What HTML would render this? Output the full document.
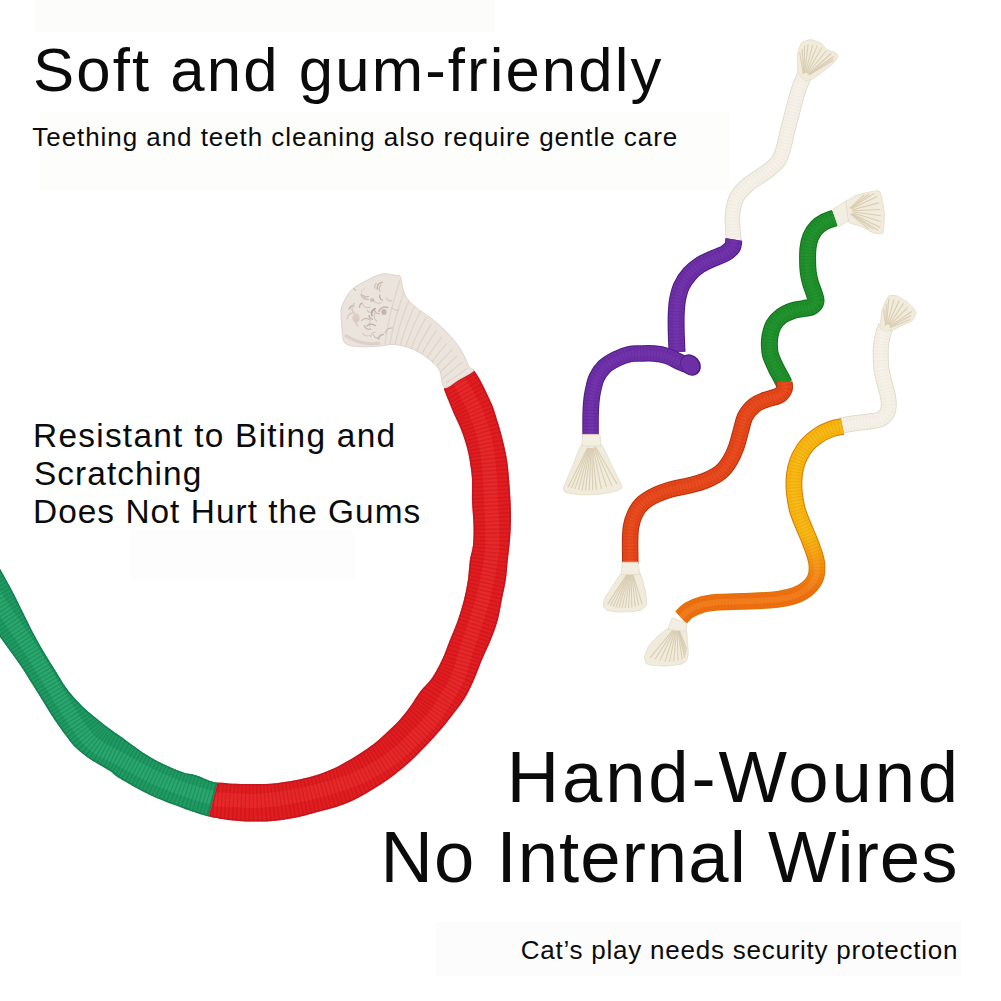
<!DOCTYPE html>
<html><head><meta charset="utf-8"><style>
html,body{margin:0;padding:0;background:#fff;}
body{width:1001px;height:1001px;position:relative;overflow:hidden;font-family:"Liberation Sans",sans-serif;color:#0b0b0b;}
.t{position:absolute;white-space:nowrap;line-height:1;}
</style></head><body>
<svg width="1001" height="1001" viewBox="0 0 1001 1001" style="position:absolute;left:0;top:0"><rect x="35" y="0" width="460" height="32" fill="#fcfcfa"/><rect x="40" y="112" width="690" height="78" fill="#fdfdfc"/><rect x="130" y="530" width="225" height="50" fill="#fdfdfd"/><rect x="436" y="922" width="525" height="54" fill="#fcfcfc"/><defs><linearGradient id="yo" gradientUnits="userSpaceOnUse" x1="0" y1="535" x2="0" y2="592"><stop offset="0" stop-color="#f6b70a"/><stop offset="1" stop-color="#ef6c10"/></linearGradient></defs><clipPath id="rc"><path d="M443.8,388.8 C444.5,390.6 446.3,395.4 448.0,399.6 C449.7,403.8 452.0,409.4 454.0,414.0 C456.0,418.6 458.2,422.7 460.0,427.1 C461.8,431.5 463.4,435.9 464.8,440.3 C466.2,444.7 467.4,448.9 468.4,453.5 C469.4,458.1 470.2,463.5 470.8,467.9 C471.4,472.3 471.8,474.6 472.0,480.0 C472.2,485.4 471.8,492.5 472.0,500.0 C472.2,507.5 473.3,517.5 473.5,525.0 C473.7,532.5 473.6,539.2 473.0,545.0 C472.4,550.8 470.8,554.2 469.9,560.0 C469.0,565.8 468.9,573.3 467.9,580.0 C466.9,586.7 465.6,593.3 463.9,600.0 C462.2,606.7 460.2,613.3 457.9,620.0 C455.6,626.7 452.6,633.3 449.9,640.0 C447.2,646.7 444.9,653.7 441.9,660.0 C438.9,666.3 435.7,672.7 432.0,678.0 C428.3,683.3 423.4,687.4 419.9,692.0 C416.4,696.6 414.1,701.0 410.9,705.5 C407.6,710.0 403.9,715.0 400.4,719.0 C396.9,723.0 394.1,725.5 389.9,729.5 C385.7,733.5 380.0,739.0 375.0,743.0 C370.0,747.0 365.0,750.2 360.0,753.4 C355.0,756.6 350.0,759.6 345.0,762.4 C340.0,765.2 336.2,767.5 330.0,770.0 C323.8,772.5 316.9,775.4 307.9,777.6 C298.9,779.8 286.6,782.1 275.9,783.2 C265.2,784.3 253.6,784.1 243.9,784.0 C234.2,783.9 222.0,782.7 217.6,782.4 L208.8,816.5 C212.0,817.1 220.8,819.1 228.0,819.9 C235.2,820.7 243.9,821.4 251.9,821.5 C259.9,821.6 267.9,821.5 275.9,820.7 C283.9,819.9 291.9,818.4 299.9,816.7 C307.9,815.0 317.4,812.1 323.9,810.3 C330.4,808.5 333.5,807.9 339.0,805.9 C344.5,803.9 351.0,801.4 357.0,798.4 C363.0,795.4 369.0,791.6 375.0,787.9 C381.0,784.1 386.9,780.4 392.9,775.9 C398.9,771.4 405.4,766.0 410.9,761.0 C416.4,756.0 420.9,751.2 425.9,746.0 C430.9,740.8 436.4,734.8 440.9,729.5 C445.4,724.2 448.9,719.8 452.9,714.5 C456.9,709.2 461.4,703.8 464.9,698.0 C468.4,692.2 471.1,686.3 473.9,680.0 C476.7,673.7 479.1,666.7 481.9,660.0 C484.7,653.3 488.1,646.7 490.8,640.0 C493.5,633.3 496.0,626.7 497.8,620.0 C499.6,613.3 500.5,606.7 501.8,600.0 C503.1,593.3 504.8,586.7 505.8,580.0 C506.8,573.3 507.1,566.7 507.8,560.0 C508.5,553.3 509.5,546.7 510.0,540.0 C510.5,533.3 510.9,526.7 511.0,520.0 C511.1,513.3 510.8,506.7 510.5,500.0 C510.2,493.3 509.6,486.4 509.1,480.0 C508.6,473.6 508.1,467.5 507.3,461.9 C506.5,456.3 505.4,451.3 504.3,446.3 C503.2,441.3 501.9,436.4 500.7,432.0 C499.5,427.6 498.5,424.4 497.1,420.0 C495.7,415.6 494.2,410.2 492.4,405.6 C490.6,401.0 488.4,396.6 486.4,392.4 C484.4,388.2 482.4,384.0 480.4,380.4 C478.4,376.8 475.4,372.4 474.4,370.8Z"/></clipPath><clipPath id="gc"><path d="M217.6,782.4 C216.7,782.3 215.6,782.8 212.0,781.6 C208.4,780.4 201.3,776.9 196.0,775.2 C190.7,773.5 187.7,774.2 180.0,771.2 C172.3,768.2 160.0,762.9 150.0,757.0 C140.0,751.1 126.7,740.7 120.0,736.0 C113.3,731.3 113.5,731.6 110.0,729.0 C106.5,726.4 102.7,723.3 99.0,720.4 C95.3,717.5 91.7,714.9 88.0,711.6 C84.3,708.3 80.7,704.7 77.0,700.7 C73.3,696.7 69.7,692.6 66.0,687.5 C62.3,682.4 58.7,675.9 55.0,670.0 C51.3,664.1 47.7,658.5 44.0,652.3 C40.3,646.0 36.7,639.5 33.0,632.5 C29.3,625.5 25.7,617.8 22.0,610.5 C18.3,603.2 14.7,595.6 11.0,588.6 C7.3,581.6 3.5,575.1 0.0,568.8 C-3.5,562.5 -8.3,554.0 -10.0,551.0 L-10.0,622.0 C-8.3,624.5 -3.5,632.0 0.0,637.0 C3.5,642.0 7.3,647.2 11.0,652.3 C14.7,657.4 18.3,662.2 22.0,667.7 C25.7,673.2 29.3,679.4 33.0,685.3 C36.7,691.2 40.3,697.0 44.0,702.9 C47.7,708.8 51.3,714.9 55.0,720.4 C58.7,725.9 62.7,731.4 66.0,735.8 C69.3,740.2 71.0,743.1 74.7,746.8 C78.4,750.5 84.0,754.9 88.0,757.8 C92.0,760.7 95.3,762.2 99.0,764.4 C102.7,766.6 106.5,768.6 110.0,771.0 C113.5,773.4 113.3,774.5 120.0,778.5 C126.7,782.5 140.0,790.2 150.0,795.0 C160.0,799.8 172.3,804.0 180.0,807.0 C187.7,810.0 191.2,811.1 196.0,812.7 C200.8,814.3 206.7,815.9 208.8,816.5Z"/></clipPath><path d="M217.6,782.4 C216.7,782.3 215.6,782.8 212.0,781.6 C208.4,780.4 201.3,776.9 196.0,775.2 C190.7,773.5 187.7,774.2 180.0,771.2 C172.3,768.2 160.0,762.9 150.0,757.0 C140.0,751.1 126.7,740.7 120.0,736.0 C113.3,731.3 113.5,731.6 110.0,729.0 C106.5,726.4 102.7,723.3 99.0,720.4 C95.3,717.5 91.7,714.9 88.0,711.6 C84.3,708.3 80.7,704.7 77.0,700.7 C73.3,696.7 69.7,692.6 66.0,687.5 C62.3,682.4 58.7,675.9 55.0,670.0 C51.3,664.1 47.7,658.5 44.0,652.3 C40.3,646.0 36.7,639.5 33.0,632.5 C29.3,625.5 25.7,617.8 22.0,610.5 C18.3,603.2 14.7,595.6 11.0,588.6 C7.3,581.6 3.5,575.1 0.0,568.8 C-3.5,562.5 -8.3,554.0 -10.0,551.0 L-10.0,622.0 C-8.3,624.5 -3.5,632.0 0.0,637.0 C3.5,642.0 7.3,647.2 11.0,652.3 C14.7,657.4 18.3,662.2 22.0,667.7 C25.7,673.2 29.3,679.4 33.0,685.3 C36.7,691.2 40.3,697.0 44.0,702.9 C47.7,708.8 51.3,714.9 55.0,720.4 C58.7,725.9 62.7,731.4 66.0,735.8 C69.3,740.2 71.0,743.1 74.7,746.8 C78.4,750.5 84.0,754.9 88.0,757.8 C92.0,760.7 95.3,762.2 99.0,764.4 C102.7,766.6 106.5,768.6 110.0,771.0 C113.5,773.4 113.3,774.5 120.0,778.5 C126.7,782.5 140.0,790.2 150.0,795.0 C160.0,799.8 172.3,804.0 180.0,807.0 C187.7,810.0 191.2,811.1 196.0,812.7 C200.8,814.3 206.7,815.9 208.8,816.5Z" fill="#1f9a63"/><g clip-path="url(#gc)"><path d="M216.0,799.0 C210.0,797.2 191.0,792.0 180.0,788.0 C169.0,784.0 160.0,779.8 150.0,775.0 C140.0,770.2 130.0,764.7 120.0,759.0 C110.0,753.3 99.7,750.7 90.0,741.0 C80.3,731.3 71.8,716.2 62.0,701.0 C52.2,685.8 41.3,666.2 31.0,650.0 C20.7,633.8 8.5,617.3 0.0,604.0 C-8.5,590.7 -16.7,575.7 -20.0,570.0" fill="none" stroke="#3bbf85" stroke-width="14" opacity="0.35"/><path d="M216.0,799.0 C210.0,797.2 191.0,792.0 180.0,788.0 C169.0,784.0 160.0,779.8 150.0,775.0 C140.0,770.2 130.0,764.7 120.0,759.0 C110.0,753.3 99.7,750.7 90.0,741.0 C80.3,731.3 71.8,716.2 62.0,701.0 C52.2,685.8 41.3,666.2 31.0,650.0 C20.7,633.8 8.5,617.3 0.0,604.0 C-8.5,590.7 -16.7,575.7 -20.0,570.0" fill="none" stroke="#0e6e42" stroke-width="60" stroke-dasharray="1.3 2.4" opacity="0.35"/><path d="M217.6,782.4 C216.7,782.3 215.6,782.8 212.0,781.6 C208.4,780.4 201.3,776.9 196.0,775.2 C190.7,773.5 187.7,774.2 180.0,771.2 C172.3,768.2 160.0,762.9 150.0,757.0 C140.0,751.1 126.7,740.7 120.0,736.0 C113.3,731.3 113.5,731.6 110.0,729.0 C106.5,726.4 102.7,723.3 99.0,720.4 C95.3,717.5 91.7,714.9 88.0,711.6 C84.3,708.3 80.7,704.7 77.0,700.7 C73.3,696.7 69.7,692.6 66.0,687.5 C62.3,682.4 58.7,675.9 55.0,670.0 C51.3,664.1 47.7,658.5 44.0,652.3 C40.3,646.0 36.7,639.5 33.0,632.5 C29.3,625.5 25.7,617.8 22.0,610.5 C18.3,603.2 14.7,595.6 11.0,588.6 C7.3,581.6 3.5,575.1 0.0,568.8 C-3.5,562.5 -8.3,554.0 -10.0,551.0 L-10.0,622.0 C-8.3,624.5 -3.5,632.0 0.0,637.0 C3.5,642.0 7.3,647.2 11.0,652.3 C14.7,657.4 18.3,662.2 22.0,667.7 C25.7,673.2 29.3,679.4 33.0,685.3 C36.7,691.2 40.3,697.0 44.0,702.9 C47.7,708.8 51.3,714.9 55.0,720.4 C58.7,725.9 62.7,731.4 66.0,735.8 C69.3,740.2 71.0,743.1 74.7,746.8 C78.4,750.5 84.0,754.9 88.0,757.8 C92.0,760.7 95.3,762.2 99.0,764.4 C102.7,766.6 106.5,768.6 110.0,771.0 C113.5,773.4 113.3,774.5 120.0,778.5 C126.7,782.5 140.0,790.2 150.0,795.0 C160.0,799.8 172.3,804.0 180.0,807.0 C187.7,810.0 191.2,811.1 196.0,812.7 C200.8,814.3 206.7,815.9 208.8,816.5Z" fill="none" stroke="#137a4c" stroke-width="3" opacity="0.7"/></g><path d="M443.8,388.8 C444.5,390.6 446.3,395.4 448.0,399.6 C449.7,403.8 452.0,409.4 454.0,414.0 C456.0,418.6 458.2,422.7 460.0,427.1 C461.8,431.5 463.4,435.9 464.8,440.3 C466.2,444.7 467.4,448.9 468.4,453.5 C469.4,458.1 470.2,463.5 470.8,467.9 C471.4,472.3 471.8,474.6 472.0,480.0 C472.2,485.4 471.8,492.5 472.0,500.0 C472.2,507.5 473.3,517.5 473.5,525.0 C473.7,532.5 473.6,539.2 473.0,545.0 C472.4,550.8 470.8,554.2 469.9,560.0 C469.0,565.8 468.9,573.3 467.9,580.0 C466.9,586.7 465.6,593.3 463.9,600.0 C462.2,606.7 460.2,613.3 457.9,620.0 C455.6,626.7 452.6,633.3 449.9,640.0 C447.2,646.7 444.9,653.7 441.9,660.0 C438.9,666.3 435.7,672.7 432.0,678.0 C428.3,683.3 423.4,687.4 419.9,692.0 C416.4,696.6 414.1,701.0 410.9,705.5 C407.6,710.0 403.9,715.0 400.4,719.0 C396.9,723.0 394.1,725.5 389.9,729.5 C385.7,733.5 380.0,739.0 375.0,743.0 C370.0,747.0 365.0,750.2 360.0,753.4 C355.0,756.6 350.0,759.6 345.0,762.4 C340.0,765.2 336.2,767.5 330.0,770.0 C323.8,772.5 316.9,775.4 307.9,777.6 C298.9,779.8 286.6,782.1 275.9,783.2 C265.2,784.3 253.6,784.1 243.9,784.0 C234.2,783.9 222.0,782.7 217.6,782.4 L208.8,816.5 C212.0,817.1 220.8,819.1 228.0,819.9 C235.2,820.7 243.9,821.4 251.9,821.5 C259.9,821.6 267.9,821.5 275.9,820.7 C283.9,819.9 291.9,818.4 299.9,816.7 C307.9,815.0 317.4,812.1 323.9,810.3 C330.4,808.5 333.5,807.9 339.0,805.9 C344.5,803.9 351.0,801.4 357.0,798.4 C363.0,795.4 369.0,791.6 375.0,787.9 C381.0,784.1 386.9,780.4 392.9,775.9 C398.9,771.4 405.4,766.0 410.9,761.0 C416.4,756.0 420.9,751.2 425.9,746.0 C430.9,740.8 436.4,734.8 440.9,729.5 C445.4,724.2 448.9,719.8 452.9,714.5 C456.9,709.2 461.4,703.8 464.9,698.0 C468.4,692.2 471.1,686.3 473.9,680.0 C476.7,673.7 479.1,666.7 481.9,660.0 C484.7,653.3 488.1,646.7 490.8,640.0 C493.5,633.3 496.0,626.7 497.8,620.0 C499.6,613.3 500.5,606.7 501.8,600.0 C503.1,593.3 504.8,586.7 505.8,580.0 C506.8,573.3 507.1,566.7 507.8,560.0 C508.5,553.3 509.5,546.7 510.0,540.0 C510.5,533.3 510.9,526.7 511.0,520.0 C511.1,513.3 510.8,506.7 510.5,500.0 C510.2,493.3 509.6,486.4 509.1,480.0 C508.6,473.6 508.1,467.5 507.3,461.9 C506.5,456.3 505.4,451.3 504.3,446.3 C503.2,441.3 501.9,436.4 500.7,432.0 C499.5,427.6 498.5,424.4 497.1,420.0 C495.7,415.6 494.2,410.2 492.4,405.6 C490.6,401.0 488.4,396.6 486.4,392.4 C484.4,388.2 482.4,384.0 480.4,380.4 C478.4,376.8 475.4,372.4 474.4,370.8Z" fill="#e01d21"/><g clip-path="url(#rc)"><path d="M458.0,379.0 C461.0,384.5 471.2,400.2 476.0,412.0 C480.8,423.8 484.5,435.3 487.0,450.0 C489.5,464.7 490.2,483.3 491.0,500.0 C491.8,516.7 493.4,533.3 492.0,550.0 C490.6,566.7 486.8,583.3 482.5,600.0 C478.2,616.7 470.6,637.0 466.5,650.0 C462.4,663.0 461.3,669.7 457.7,678.0 C454.1,686.3 449.6,692.7 445.0,700.0 C440.4,707.3 438.3,712.7 430.0,722.0 C421.7,731.3 406.7,746.8 395.0,756.0 C383.3,765.2 371.7,771.5 360.0,777.0 C348.3,782.5 336.7,785.7 325.0,789.0 C313.3,792.3 301.7,795.0 290.0,797.0 C278.3,799.0 267.8,800.7 255.0,801.0 C242.2,801.3 220.0,799.3 213.0,799.0" fill="none" stroke="#f4423f" stroke-width="14" opacity="0.3"/><path d="M458.0,379.0 C461.0,384.5 471.2,400.2 476.0,412.0 C480.8,423.8 484.5,435.3 487.0,450.0 C489.5,464.7 490.2,483.3 491.0,500.0 C491.8,516.7 493.4,533.3 492.0,550.0 C490.6,566.7 486.8,583.3 482.5,600.0 C478.2,616.7 470.6,637.0 466.5,650.0 C462.4,663.0 461.3,669.7 457.7,678.0 C454.1,686.3 449.6,692.7 445.0,700.0 C440.4,707.3 438.3,712.7 430.0,722.0 C421.7,731.3 406.7,746.8 395.0,756.0 C383.3,765.2 371.7,771.5 360.0,777.0 C348.3,782.5 336.7,785.7 325.0,789.0 C313.3,792.3 301.7,795.0 290.0,797.0 C278.3,799.0 267.8,800.7 255.0,801.0 C242.2,801.3 220.0,799.3 213.0,799.0" fill="none" stroke="#a80c10" stroke-width="60" stroke-dasharray="1.3 2.6" opacity="0.28"/><path d="M443.8,388.8 C444.5,390.6 446.3,395.4 448.0,399.6 C449.7,403.8 452.0,409.4 454.0,414.0 C456.0,418.6 458.2,422.7 460.0,427.1 C461.8,431.5 463.4,435.9 464.8,440.3 C466.2,444.7 467.4,448.9 468.4,453.5 C469.4,458.1 470.2,463.5 470.8,467.9 C471.4,472.3 471.8,474.6 472.0,480.0 C472.2,485.4 471.8,492.5 472.0,500.0 C472.2,507.5 473.3,517.5 473.5,525.0 C473.7,532.5 473.6,539.2 473.0,545.0 C472.4,550.8 470.8,554.2 469.9,560.0 C469.0,565.8 468.9,573.3 467.9,580.0 C466.9,586.7 465.6,593.3 463.9,600.0 C462.2,606.7 460.2,613.3 457.9,620.0 C455.6,626.7 452.6,633.3 449.9,640.0 C447.2,646.7 444.9,653.7 441.9,660.0 C438.9,666.3 435.7,672.7 432.0,678.0 C428.3,683.3 423.4,687.4 419.9,692.0 C416.4,696.6 414.1,701.0 410.9,705.5 C407.6,710.0 403.9,715.0 400.4,719.0 C396.9,723.0 394.1,725.5 389.9,729.5 C385.7,733.5 380.0,739.0 375.0,743.0 C370.0,747.0 365.0,750.2 360.0,753.4 C355.0,756.6 350.0,759.6 345.0,762.4 C340.0,765.2 336.2,767.5 330.0,770.0 C323.8,772.5 316.9,775.4 307.9,777.6 C298.9,779.8 286.6,782.1 275.9,783.2 C265.2,784.3 253.6,784.1 243.9,784.0 C234.2,783.9 222.0,782.7 217.6,782.4 L208.8,816.5 C212.0,817.1 220.8,819.1 228.0,819.9 C235.2,820.7 243.9,821.4 251.9,821.5 C259.9,821.6 267.9,821.5 275.9,820.7 C283.9,819.9 291.9,818.4 299.9,816.7 C307.9,815.0 317.4,812.1 323.9,810.3 C330.4,808.5 333.5,807.9 339.0,805.9 C344.5,803.9 351.0,801.4 357.0,798.4 C363.0,795.4 369.0,791.6 375.0,787.9 C381.0,784.1 386.9,780.4 392.9,775.9 C398.9,771.4 405.4,766.0 410.9,761.0 C416.4,756.0 420.9,751.2 425.9,746.0 C430.9,740.8 436.4,734.8 440.9,729.5 C445.4,724.2 448.9,719.8 452.9,714.5 C456.9,709.2 461.4,703.8 464.9,698.0 C468.4,692.2 471.1,686.3 473.9,680.0 C476.7,673.7 479.1,666.7 481.9,660.0 C484.7,653.3 488.1,646.7 490.8,640.0 C493.5,633.3 496.0,626.7 497.8,620.0 C499.6,613.3 500.5,606.7 501.8,600.0 C503.1,593.3 504.8,586.7 505.8,580.0 C506.8,573.3 507.1,566.7 507.8,560.0 C508.5,553.3 509.5,546.7 510.0,540.0 C510.5,533.3 510.9,526.7 511.0,520.0 C511.1,513.3 510.8,506.7 510.5,500.0 C510.2,493.3 509.6,486.4 509.1,480.0 C508.6,473.6 508.1,467.5 507.3,461.9 C506.5,456.3 505.4,451.3 504.3,446.3 C503.2,441.3 501.9,436.4 500.7,432.0 C499.5,427.6 498.5,424.4 497.1,420.0 C495.7,415.6 494.2,410.2 492.4,405.6 C490.6,401.0 488.4,396.6 486.4,392.4 C484.4,388.2 482.4,384.0 480.4,380.4 C478.4,376.8 475.4,372.4 474.4,370.8Z" fill="none" stroke="#b9121a" stroke-width="3" opacity="0.6"/></g><clipPath id="wtc"><path d="M345.0,299.5 C343.1,303.0 341.7,305.2 341.2,310.0 C340.7,314.8 341.4,322.5 342.0,328.0 C342.6,333.5 342.0,339.9 345.0,343.0 C348.0,346.1 354.2,346.2 360.0,346.7 C365.8,347.2 373.8,346.4 379.5,346.0 C385.2,345.6 388.9,343.9 394.4,344.4 C399.9,344.9 406.9,346.7 412.4,349.0 C417.9,351.3 422.9,354.5 427.4,358.0 C431.9,361.5 436.6,365.1 439.4,370.0 C442.2,374.9 441.0,385.8 444.3,387.4 C447.6,389.0 454.1,382.2 459.0,379.4 C463.9,376.6 472.1,372.7 473.8,370.6 C475.5,368.5 471.6,370.6 469.4,367.0 C467.2,363.4 464.1,354.8 460.4,349.0 C456.7,343.2 451.7,337.4 447.0,332.4 C442.3,327.4 437.3,323.2 432.0,319.0 C426.7,314.8 419.9,311.0 415.4,307.0 C410.9,303.0 407.5,300.0 405.0,295.0 C402.5,290.0 401.9,280.2 400.4,277.0 C398.9,273.8 399.0,276.0 396.0,275.5 C393.0,275.0 387.1,273.2 382.4,274.0 C377.6,274.8 372.5,277.5 367.5,280.0 C362.5,282.5 356.2,285.8 352.5,289.0 C348.8,292.2 346.9,296.0 345.0,299.5Z"/></clipPath><path d="M345.0,299.5 C343.1,303.0 341.7,305.2 341.2,310.0 C340.7,314.8 341.4,322.5 342.0,328.0 C342.6,333.5 342.0,339.9 345.0,343.0 C348.0,346.1 354.2,346.2 360.0,346.7 C365.8,347.2 373.8,346.4 379.5,346.0 C385.2,345.6 388.9,343.9 394.4,344.4 C399.9,344.9 406.9,346.7 412.4,349.0 C417.9,351.3 422.9,354.5 427.4,358.0 C431.9,361.5 436.6,365.1 439.4,370.0 C442.2,374.9 441.0,385.8 444.3,387.4 C447.6,389.0 454.1,382.2 459.0,379.4 C463.9,376.6 472.1,372.7 473.8,370.6 C475.5,368.5 471.6,370.6 469.4,367.0 C467.2,363.4 464.1,354.8 460.4,349.0 C456.7,343.2 451.7,337.4 447.0,332.4 C442.3,327.4 437.3,323.2 432.0,319.0 C426.7,314.8 419.9,311.0 415.4,307.0 C410.9,303.0 407.5,300.0 405.0,295.0 C402.5,290.0 401.9,280.2 400.4,277.0 C398.9,273.8 399.0,276.0 396.0,275.5 C393.0,275.0 387.1,273.2 382.4,274.0 C377.6,274.8 372.5,277.5 367.5,280.0 C362.5,282.5 356.2,285.8 352.5,289.0 C348.8,292.2 346.9,296.0 345.0,299.5Z" fill="#ebe4dd" stroke="#ddd3cb" stroke-width="1"/><g clip-path="url(#wtc)"><path d="M400.0,280.0 Q388.5,315.0 385.0,344.0" stroke="#d9cfc6" stroke-width="1.2" fill="none" opacity="0.8"/><path d="M405.2,288.7 Q393.5,320.3 389.7,345.8" stroke="#d9cfc6" stroke-width="1.2" fill="none" opacity="0.8"/><path d="M410.5,296.3 Q398.4,325.2 394.4,348.1" stroke="#d9cfc6" stroke-width="1.2" fill="none" opacity="0.8"/><path d="M415.7,303.5 Q403.4,330.1 399.1,350.7" stroke="#d9cfc6" stroke-width="1.2" fill="none" opacity="0.8"/><path d="M420.9,310.5 Q408.3,335.0 403.8,353.5" stroke="#d9cfc6" stroke-width="1.2" fill="none" opacity="0.8"/><path d="M426.2,317.2 Q413.3,339.8 408.5,356.4" stroke="#d9cfc6" stroke-width="1.2" fill="none" opacity="0.8"/><path d="M431.4,323.9 Q418.3,344.7 413.2,359.4" stroke="#d9cfc6" stroke-width="1.2" fill="none" opacity="0.8"/><path d="M436.6,330.4 Q423.2,349.5 417.8,362.6" stroke="#d9cfc6" stroke-width="1.2" fill="none" opacity="0.8"/><path d="M441.8,336.8 Q428.2,354.3 422.5,365.8" stroke="#d9cfc6" stroke-width="1.2" fill="none" opacity="0.8"/><path d="M447.1,343.2 Q433.2,359.1 427.2,369.1" stroke="#d9cfc6" stroke-width="1.2" fill="none" opacity="0.8"/><path d="M452.3,349.5 Q438.1,364.0 431.9,372.5" stroke="#d9cfc6" stroke-width="1.2" fill="none" opacity="0.8"/><path d="M457.5,355.7 Q443.1,368.8 436.6,375.9" stroke="#d9cfc6" stroke-width="1.2" fill="none" opacity="0.8"/><path d="M462.8,361.9 Q448.0,373.7 441.3,379.4" stroke="#d9cfc6" stroke-width="1.2" fill="none" opacity="0.8"/><path d="M468.0,368.0 Q453.0,378.5 446.0,383.0" stroke="#d9cfc6" stroke-width="1.2" fill="none" opacity="0.8"/><path d="M364.1,288.7 Q361.0,290.1 361.6,293.4" fill="none" stroke="#d9cdc6" stroke-width="1.0" stroke-linecap="round"/><path d="M373.4,334.9 Q374.2,338.3 377.7,338.3" fill="none" stroke="#bfada5" stroke-width="0.9" stroke-linecap="round"/><path d="M353.8,306.0 Q350.3,305.5 349.0,308.9" fill="none" stroke="#c4b3ab" stroke-width="1.3" stroke-linecap="round"/><path d="M376.3,283.2 Q373.5,285.2 374.9,288.2" fill="none" stroke="#c4b3ab" stroke-width="0.9" stroke-linecap="round"/><path d="M386.6,298.2 Q388.1,301.4 391.6,300.6" fill="none" stroke="#d6c8c0" stroke-width="1.3" stroke-linecap="round"/><path d="M381.1,285.3 Q378.1,287.7 379.8,291.1" fill="none" stroke="#cdbfb7" stroke-width="1.3" stroke-linecap="round"/><path d="M356.4,319.6 Q354.5,323.4 357.8,326.0" fill="none" stroke="#d9cdc6" stroke-width="1.5" stroke-linecap="round"/><path d="M361.0,294.5 Q362.8,299.9 368.5,299.3" fill="none" stroke="#cdbfb7" stroke-width="1.3" stroke-linecap="round"/><path d="M374.9,332.1 Q370.8,332.8 370.6,336.9" fill="none" stroke="#cdbfb7" stroke-width="1.0" stroke-linecap="round"/><path d="M364.2,325.7 Q366.1,330.1 370.8,329.1" fill="none" stroke="#cdbfb7" stroke-width="1.6" stroke-linecap="round"/><path d="M354.4,312.7 Q348.6,312.6 347.2,318.3" fill="none" stroke="#d6c8c0" stroke-width="1.4" stroke-linecap="round"/><path d="M375.5,312.2 Q372.5,317.3 376.8,321.4" fill="none" stroke="#d6c8c0" stroke-width="1.2" stroke-linecap="round"/><path d="M382.0,282.3 Q376.9,283.7 377.1,289.0" fill="none" stroke="#c9b5ae" stroke-width="1.5" stroke-linecap="round"/><path d="M362.2,302.9 Q359.2,304.1 359.7,307.4" fill="none" stroke="#bfada5" stroke-width="1.1" stroke-linecap="round"/><path d="M374.4,309.6 Q375.3,313.6 379.4,313.7" fill="none" stroke="#c9b5ae" stroke-width="1.1" stroke-linecap="round"/><path d="M362.6,333.4 Q365.4,337.1 369.7,335.2" fill="none" stroke="#d9cdc6" stroke-width="1.1" stroke-linecap="round"/><path d="M354.4,303.6 Q350.3,307.3 353.0,312.0" fill="none" stroke="#d6c8c0" stroke-width="1.4" stroke-linecap="round"/><path d="M362.9,295.1 Q365.0,298.1 368.4,296.6" fill="none" stroke="#c9b5ae" stroke-width="1.1" stroke-linecap="round"/><path d="M369.1,315.5 Q369.3,318.7 372.5,319.2" fill="none" stroke="#bfada5" stroke-width="1.3" stroke-linecap="round"/><path d="M372.6,299.3 Q375.5,304.5 381.2,302.9" fill="none" stroke="#d9cdc6" stroke-width="1.4" stroke-linecap="round"/><path d="M387.7,307.5 Q381.7,305.8 378.8,311.3" fill="none" stroke="#c9b5ae" stroke-width="1.5" stroke-linecap="round"/><path d="M362.4,304.6 Q365.2,309.0 370.1,307.2" fill="none" stroke="#cdbfb7" stroke-width="1.0" stroke-linecap="round"/><path d="M391.5,307.1 Q394.2,311.5 399.0,309.8" fill="none" stroke="#cdbfb7" stroke-width="0.9" stroke-linecap="round"/><path d="M353.3,285.8 Q352.5,288.9 355.5,290.4" fill="none" stroke="#b8a69e" stroke-width="1.0" stroke-linecap="round"/><path d="M369.4,319.5 Q365.0,316.9 361.5,320.6" fill="none" stroke="#bfada5" stroke-width="1.0" stroke-linecap="round"/><path d="M367.2,310.3 Q369.2,313.2 372.5,311.8" fill="none" stroke="#d6c8c0" stroke-width="1.4" stroke-linecap="round"/><path d="M370.6,320.5 Q368.0,323.4 370.3,326.5" fill="none" stroke="#d9cdc6" stroke-width="1.2" stroke-linecap="round"/><path d="M383.2,334.6 Q379.0,335.0 378.5,339.1" fill="none" stroke="#c9b5ae" stroke-width="1.5" stroke-linecap="round"/><path d="M379.9,295.0 Q379.0,298.6 382.3,300.3" fill="none" stroke="#b8a69e" stroke-width="1.1" stroke-linecap="round"/><path d="M375.2,308.5 Q370.6,310.8 371.9,315.8" fill="none" stroke="#b8a69e" stroke-width="1.6" stroke-linecap="round"/><path d="M392.4,328.0 Q386.9,327.4 385.1,332.7" fill="none" stroke="#c4b3ab" stroke-width="1.0" stroke-linecap="round"/><path d="M375.6,325.7 Q371.0,322.3 366.7,326.0" fill="none" stroke="#bfada5" stroke-width="1.1" stroke-linecap="round"/><ellipse cx="356" cy="318" rx="3.5" ry="4.5" fill="#dcc4bc" opacity="0.8"/><ellipse cx="384" cy="312" rx="2.6" ry="3" fill="#a89890" opacity="0.6"/><ellipse cx="372" cy="300" rx="2.2" ry="2" fill="#b3a39b" opacity="0.5"/><path d="M345,335 Q360,346 380,343" fill="none" stroke="#d5c9c1" stroke-width="3" opacity="0.7"/></g><path d="M804.5,75.0 C803.5,77.6 800.2,84.8 798.3,90.7 C796.3,96.6 794.5,104.0 792.8,110.5 C791.1,117.0 789.5,123.1 787.9,129.4 C786.3,135.7 785.0,143.1 783.4,148.3 C781.8,153.5 781.3,156.9 778.5,160.8 C775.7,164.7 771.6,167.9 766.8,171.7 C762.0,175.4 754.7,179.1 749.7,183.3 C744.7,187.5 739.9,191.7 737.0,196.8 C734.1,201.9 733.3,208.1 732.6,213.9 C731.9,219.8 732.8,227.4 733.0,231.9 C733.2,236.4 733.8,239.5 734.0,241.0" fill="none" stroke="#e2dbcb" stroke-width="15.5" stroke-linecap="butt"/><path d="M804.5,75.0 C803.5,77.6 800.2,84.8 798.3,90.7 C796.3,96.6 794.5,104.0 792.8,110.5 C791.1,117.0 789.5,123.1 787.9,129.4 C786.3,135.7 785.0,143.1 783.4,148.3 C781.8,153.5 781.3,156.9 778.5,160.8 C775.7,164.7 771.6,167.9 766.8,171.7 C762.0,175.4 754.7,179.1 749.7,183.3 C744.7,187.5 739.9,191.7 737.0,196.8 C734.1,201.9 733.3,208.1 732.6,213.9 C731.9,219.8 732.8,227.4 733.0,231.9 C733.2,236.4 733.8,239.5 734.0,241.0" fill="none" stroke="#f4f0e6" stroke-width="13.6" stroke-linecap="butt"/><path d="M804.5,75.0 C803.5,77.6 800.2,84.8 798.3,90.7 C796.3,96.6 794.5,104.0 792.8,110.5 C791.1,117.0 789.5,123.1 787.9,129.4 C786.3,135.7 785.0,143.1 783.4,148.3 C781.8,153.5 781.3,156.9 778.5,160.8 C775.7,164.7 771.6,167.9 766.8,171.7 C762.0,175.4 754.7,179.1 749.7,183.3 C744.7,187.5 739.9,191.7 737.0,196.8 C734.1,201.9 733.3,208.1 732.6,213.9 C731.9,219.8 732.8,227.4 733.0,231.9 C733.2,236.4 733.8,239.5 734.0,241.0" fill="none" stroke="#fdfcf8" stroke-width="5.4" stroke-linecap="butt" opacity="0.18"/><path d="M804.5,75.0 C803.5,77.6 800.2,84.8 798.3,90.7 C796.3,96.6 794.5,104.0 792.8,110.5 C791.1,117.0 789.5,123.1 787.9,129.4 C786.3,135.7 785.0,143.1 783.4,148.3 C781.8,153.5 781.3,156.9 778.5,160.8 C775.7,164.7 771.6,167.9 766.8,171.7 C762.0,175.4 754.7,179.1 749.7,183.3 C744.7,187.5 739.9,191.7 737.0,196.8 C734.1,201.9 733.3,208.1 732.6,213.9 C731.9,219.8 732.8,227.4 733.0,231.9 C733.2,236.4 733.8,239.5 734.0,241.0" fill="none" stroke="#e2dbcb" stroke-width="14.0" stroke-dasharray="1 2.2" opacity="0.22"/><path d="M733.7,239.5 C733.5,240.8 734.0,244.7 732.5,247.0 C731.0,249.3 728.4,251.5 725.0,253.5 C721.6,255.5 716.2,257.1 712.0,259.0 C707.8,260.9 703.8,262.5 700.0,265.0 C696.2,267.5 692.6,270.5 689.5,274.0 C686.4,277.5 683.5,281.7 681.5,286.0 C679.5,290.3 678.4,295.2 677.5,300.0 C676.6,304.8 676.4,310.0 676.2,315.0 C676.0,320.0 676.1,323.8 676.2,330.0 C676.3,336.2 676.9,348.3 677.0,352.0" fill="none" stroke="#4e1c82" stroke-width="17" stroke-linecap="butt"/><path d="M733.7,239.5 C733.5,240.8 734.0,244.7 732.5,247.0 C731.0,249.3 728.4,251.5 725.0,253.5 C721.6,255.5 716.2,257.1 712.0,259.0 C707.8,260.9 703.8,262.5 700.0,265.0 C696.2,267.5 692.6,270.5 689.5,274.0 C686.4,277.5 683.5,281.7 681.5,286.0 C679.5,290.3 678.4,295.2 677.5,300.0 C676.6,304.8 676.4,310.0 676.2,315.0 C676.0,320.0 676.1,323.8 676.2,330.0 C676.3,336.2 676.9,348.3 677.0,352.0" fill="none" stroke="#6d2fa6" stroke-width="15.0" stroke-linecap="butt"/><path d="M733.7,239.5 C733.5,240.8 734.0,244.7 732.5,247.0 C731.0,249.3 728.4,251.5 725.0,253.5 C721.6,255.5 716.2,257.1 712.0,259.0 C707.8,260.9 703.8,262.5 700.0,265.0 C696.2,267.5 692.6,270.5 689.5,274.0 C686.4,277.5 683.5,281.7 681.5,286.0 C679.5,290.3 678.4,295.2 677.5,300.0 C676.6,304.8 676.4,310.0 676.2,315.0 C676.0,320.0 676.1,323.8 676.2,330.0 C676.3,336.2 676.9,348.3 677.0,352.0" fill="none" stroke="#8a4cc4" stroke-width="5.9" stroke-linecap="butt" opacity="0.18"/><path d="M733.7,239.5 C733.5,240.8 734.0,244.7 732.5,247.0 C731.0,249.3 728.4,251.5 725.0,253.5 C721.6,255.5 716.2,257.1 712.0,259.0 C707.8,260.9 703.8,262.5 700.0,265.0 C696.2,267.5 692.6,270.5 689.5,274.0 C686.4,277.5 683.5,281.7 681.5,286.0 C679.5,290.3 678.4,295.2 677.5,300.0 C676.6,304.8 676.4,310.0 676.2,315.0 C676.0,320.0 676.1,323.8 676.2,330.0 C676.3,336.2 676.9,348.3 677.0,352.0" fill="none" stroke="#4e1c82" stroke-width="15.3" stroke-dasharray="1 2.2" opacity="0.22"/><path d="M690.0,366.0 C688.5,365.4 684.8,364.2 681.0,362.5 C677.2,360.8 671.5,357.5 667.0,356.0 C662.5,354.5 658.5,353.9 654.0,353.5 C649.5,353.1 644.0,353.4 640.0,353.5 C636.0,353.6 634.0,353.1 630.0,354.0 C626.0,354.9 620.5,356.8 616.2,359.0 C611.9,361.2 607.3,363.8 604.0,367.0 C600.7,370.2 598.4,373.9 596.5,378.0 C594.6,382.1 593.7,387.5 592.8,391.5 C591.9,395.5 591.7,397.8 591.3,402.0 C590.9,406.2 590.7,411.0 590.6,416.7 C590.5,422.4 590.6,432.8 590.6,436.0" fill="none" stroke="#4e1c82" stroke-width="16.5" stroke-linecap="round"/><path d="M690.0,366.0 C688.5,365.4 684.8,364.2 681.0,362.5 C677.2,360.8 671.5,357.5 667.0,356.0 C662.5,354.5 658.5,353.9 654.0,353.5 C649.5,353.1 644.0,353.4 640.0,353.5 C636.0,353.6 634.0,353.1 630.0,354.0 C626.0,354.9 620.5,356.8 616.2,359.0 C611.9,361.2 607.3,363.8 604.0,367.0 C600.7,370.2 598.4,373.9 596.5,378.0 C594.6,382.1 593.7,387.5 592.8,391.5 C591.9,395.5 591.7,397.8 591.3,402.0 C590.9,406.2 590.7,411.0 590.6,416.7 C590.5,422.4 590.6,432.8 590.6,436.0" fill="none" stroke="#6d2fa6" stroke-width="14.5" stroke-linecap="round"/><path d="M690.0,366.0 C688.5,365.4 684.8,364.2 681.0,362.5 C677.2,360.8 671.5,357.5 667.0,356.0 C662.5,354.5 658.5,353.9 654.0,353.5 C649.5,353.1 644.0,353.4 640.0,353.5 C636.0,353.6 634.0,353.1 630.0,354.0 C626.0,354.9 620.5,356.8 616.2,359.0 C611.9,361.2 607.3,363.8 604.0,367.0 C600.7,370.2 598.4,373.9 596.5,378.0 C594.6,382.1 593.7,387.5 592.8,391.5 C591.9,395.5 591.7,397.8 591.3,402.0 C590.9,406.2 590.7,411.0 590.6,416.7 C590.5,422.4 590.6,432.8 590.6,436.0" fill="none" stroke="#8a4cc4" stroke-width="5.8" stroke-linecap="round" opacity="0.18"/><path d="M690.0,366.0 C688.5,365.4 684.8,364.2 681.0,362.5 C677.2,360.8 671.5,357.5 667.0,356.0 C662.5,354.5 658.5,353.9 654.0,353.5 C649.5,353.1 644.0,353.4 640.0,353.5 C636.0,353.6 634.0,353.1 630.0,354.0 C626.0,354.9 620.5,356.8 616.2,359.0 C611.9,361.2 607.3,363.8 604.0,367.0 C600.7,370.2 598.4,373.9 596.5,378.0 C594.6,382.1 593.7,387.5 592.8,391.5 C591.9,395.5 591.7,397.8 591.3,402.0 C590.9,406.2 590.7,411.0 590.6,416.7 C590.5,422.4 590.6,432.8 590.6,436.0" fill="none" stroke="#4e1c82" stroke-width="14.8" stroke-dasharray="1 2.2" opacity="0.22"/><ellipse cx="690.5" cy="365" rx="9.6" ry="11.3" transform="rotate(-40 690.5 365)" fill="#4e1c82"/><ellipse cx="690" cy="365" rx="8.4" ry="10.2" transform="rotate(-40 690 365)" fill="#6d2fa6"/><path d="M834.8,218.0 C833.2,218.6 828.0,220.0 825.0,221.6 C822.0,223.2 819.0,225.1 816.6,227.6 C814.2,230.1 812.2,233.2 810.8,236.6 C809.4,240.0 808.5,244.1 808.0,248.0 C807.5,251.9 807.6,256.0 807.6,260.0 C807.6,264.0 807.7,268.2 808.2,272.0 C808.7,275.8 809.5,279.5 810.5,283.0 C811.5,286.5 813.1,290.0 814.0,293.0 C814.9,296.0 816.3,298.8 816.0,301.0 C815.7,303.2 814.0,305.2 812.0,306.5 C810.0,307.8 807.1,307.8 804.0,308.5 C800.9,309.2 796.9,309.2 793.2,310.5 C789.5,311.8 784.9,313.6 781.6,316.0 C778.3,318.4 775.4,321.7 773.5,325.0 C771.6,328.3 770.7,332.7 770.0,336.0 C769.3,339.3 769.3,341.8 769.4,345.0 C769.5,348.2 769.4,351.2 770.5,355.0 C771.6,358.8 774.2,364.2 776.0,368.0 C777.8,371.8 780.0,375.3 781.4,378.0 C782.8,380.7 783.9,383.0 784.4,384.0" fill="none" stroke="#11701c" stroke-width="17" stroke-linecap="butt"/><path d="M834.8,218.0 C833.2,218.6 828.0,220.0 825.0,221.6 C822.0,223.2 819.0,225.1 816.6,227.6 C814.2,230.1 812.2,233.2 810.8,236.6 C809.4,240.0 808.5,244.1 808.0,248.0 C807.5,251.9 807.6,256.0 807.6,260.0 C807.6,264.0 807.7,268.2 808.2,272.0 C808.7,275.8 809.5,279.5 810.5,283.0 C811.5,286.5 813.1,290.0 814.0,293.0 C814.9,296.0 816.3,298.8 816.0,301.0 C815.7,303.2 814.0,305.2 812.0,306.5 C810.0,307.8 807.1,307.8 804.0,308.5 C800.9,309.2 796.9,309.2 793.2,310.5 C789.5,311.8 784.9,313.6 781.6,316.0 C778.3,318.4 775.4,321.7 773.5,325.0 C771.6,328.3 770.7,332.7 770.0,336.0 C769.3,339.3 769.3,341.8 769.4,345.0 C769.5,348.2 769.4,351.2 770.5,355.0 C771.6,358.8 774.2,364.2 776.0,368.0 C777.8,371.8 780.0,375.3 781.4,378.0 C782.8,380.7 783.9,383.0 784.4,384.0" fill="none" stroke="#1f8e2b" stroke-width="15.0" stroke-linecap="butt"/><path d="M834.8,218.0 C833.2,218.6 828.0,220.0 825.0,221.6 C822.0,223.2 819.0,225.1 816.6,227.6 C814.2,230.1 812.2,233.2 810.8,236.6 C809.4,240.0 808.5,244.1 808.0,248.0 C807.5,251.9 807.6,256.0 807.6,260.0 C807.6,264.0 807.7,268.2 808.2,272.0 C808.7,275.8 809.5,279.5 810.5,283.0 C811.5,286.5 813.1,290.0 814.0,293.0 C814.9,296.0 816.3,298.8 816.0,301.0 C815.7,303.2 814.0,305.2 812.0,306.5 C810.0,307.8 807.1,307.8 804.0,308.5 C800.9,309.2 796.9,309.2 793.2,310.5 C789.5,311.8 784.9,313.6 781.6,316.0 C778.3,318.4 775.4,321.7 773.5,325.0 C771.6,328.3 770.7,332.7 770.0,336.0 C769.3,339.3 769.3,341.8 769.4,345.0 C769.5,348.2 769.4,351.2 770.5,355.0 C771.6,358.8 774.2,364.2 776.0,368.0 C777.8,371.8 780.0,375.3 781.4,378.0 C782.8,380.7 783.9,383.0 784.4,384.0" fill="none" stroke="#3aac45" stroke-width="5.9" stroke-linecap="butt" opacity="0.18"/><path d="M834.8,218.0 C833.2,218.6 828.0,220.0 825.0,221.6 C822.0,223.2 819.0,225.1 816.6,227.6 C814.2,230.1 812.2,233.2 810.8,236.6 C809.4,240.0 808.5,244.1 808.0,248.0 C807.5,251.9 807.6,256.0 807.6,260.0 C807.6,264.0 807.7,268.2 808.2,272.0 C808.7,275.8 809.5,279.5 810.5,283.0 C811.5,286.5 813.1,290.0 814.0,293.0 C814.9,296.0 816.3,298.8 816.0,301.0 C815.7,303.2 814.0,305.2 812.0,306.5 C810.0,307.8 807.1,307.8 804.0,308.5 C800.9,309.2 796.9,309.2 793.2,310.5 C789.5,311.8 784.9,313.6 781.6,316.0 C778.3,318.4 775.4,321.7 773.5,325.0 C771.6,328.3 770.7,332.7 770.0,336.0 C769.3,339.3 769.3,341.8 769.4,345.0 C769.5,348.2 769.4,351.2 770.5,355.0 C771.6,358.8 774.2,364.2 776.0,368.0 C777.8,371.8 780.0,375.3 781.4,378.0 C782.8,380.7 783.9,383.0 784.4,384.0" fill="none" stroke="#11701c" stroke-width="15.3" stroke-dasharray="1 2.2" opacity="0.22"/><path d="M784.2,381.5 C784.2,382.8 785.4,386.7 784.5,389.0 C783.6,391.3 782.2,393.7 779.0,395.5 C775.8,397.3 769.1,398.4 765.0,400.0 C760.9,401.6 757.7,402.6 754.4,405.3 C751.1,408.0 747.6,411.9 745.4,416.1 C743.2,420.3 742.5,425.4 741.0,430.5 C739.5,435.6 738.2,441.7 736.4,446.7 C734.6,451.7 732.7,456.2 730.1,460.5 C727.5,464.8 724.7,468.9 720.7,472.2 C716.7,475.5 711.3,478.2 706.0,480.4 C700.7,482.6 694.7,484.1 689.0,485.5 C683.3,486.9 677.4,487.6 672.0,489.1 C666.6,490.6 661.3,492.3 656.5,494.6 C651.7,496.9 646.9,499.5 643.3,502.7 C639.7,505.9 637.0,509.9 635.0,514.0 C633.0,518.0 631.8,522.3 631.0,527.0 C630.2,531.7 630.2,537.3 630.1,542.0 C630.0,546.7 630.2,551.3 630.2,555.0 C630.2,558.7 630.3,562.5 630.3,564.0" fill="none" stroke="#b8300c" stroke-width="16.5" stroke-linecap="butt"/><path d="M784.2,381.5 C784.2,382.8 785.4,386.7 784.5,389.0 C783.6,391.3 782.2,393.7 779.0,395.5 C775.8,397.3 769.1,398.4 765.0,400.0 C760.9,401.6 757.7,402.6 754.4,405.3 C751.1,408.0 747.6,411.9 745.4,416.1 C743.2,420.3 742.5,425.4 741.0,430.5 C739.5,435.6 738.2,441.7 736.4,446.7 C734.6,451.7 732.7,456.2 730.1,460.5 C727.5,464.8 724.7,468.9 720.7,472.2 C716.7,475.5 711.3,478.2 706.0,480.4 C700.7,482.6 694.7,484.1 689.0,485.5 C683.3,486.9 677.4,487.6 672.0,489.1 C666.6,490.6 661.3,492.3 656.5,494.6 C651.7,496.9 646.9,499.5 643.3,502.7 C639.7,505.9 637.0,509.9 635.0,514.0 C633.0,518.0 631.8,522.3 631.0,527.0 C630.2,531.7 630.2,537.3 630.1,542.0 C630.0,546.7 630.2,551.3 630.2,555.0 C630.2,558.7 630.3,562.5 630.3,564.0" fill="none" stroke="#e4461a" stroke-width="14.5" stroke-linecap="butt"/><path d="M784.2,381.5 C784.2,382.8 785.4,386.7 784.5,389.0 C783.6,391.3 782.2,393.7 779.0,395.5 C775.8,397.3 769.1,398.4 765.0,400.0 C760.9,401.6 757.7,402.6 754.4,405.3 C751.1,408.0 747.6,411.9 745.4,416.1 C743.2,420.3 742.5,425.4 741.0,430.5 C739.5,435.6 738.2,441.7 736.4,446.7 C734.6,451.7 732.7,456.2 730.1,460.5 C727.5,464.8 724.7,468.9 720.7,472.2 C716.7,475.5 711.3,478.2 706.0,480.4 C700.7,482.6 694.7,484.1 689.0,485.5 C683.3,486.9 677.4,487.6 672.0,489.1 C666.6,490.6 661.3,492.3 656.5,494.6 C651.7,496.9 646.9,499.5 643.3,502.7 C639.7,505.9 637.0,509.9 635.0,514.0 C633.0,518.0 631.8,522.3 631.0,527.0 C630.2,531.7 630.2,537.3 630.1,542.0 C630.0,546.7 630.2,551.3 630.2,555.0 C630.2,558.7 630.3,562.5 630.3,564.0" fill="none" stroke="#f76a3a" stroke-width="5.8" stroke-linecap="butt" opacity="0.18"/><path d="M784.2,381.5 C784.2,382.8 785.4,386.7 784.5,389.0 C783.6,391.3 782.2,393.7 779.0,395.5 C775.8,397.3 769.1,398.4 765.0,400.0 C760.9,401.6 757.7,402.6 754.4,405.3 C751.1,408.0 747.6,411.9 745.4,416.1 C743.2,420.3 742.5,425.4 741.0,430.5 C739.5,435.6 738.2,441.7 736.4,446.7 C734.6,451.7 732.7,456.2 730.1,460.5 C727.5,464.8 724.7,468.9 720.7,472.2 C716.7,475.5 711.3,478.2 706.0,480.4 C700.7,482.6 694.7,484.1 689.0,485.5 C683.3,486.9 677.4,487.6 672.0,489.1 C666.6,490.6 661.3,492.3 656.5,494.6 C651.7,496.9 646.9,499.5 643.3,502.7 C639.7,505.9 637.0,509.9 635.0,514.0 C633.0,518.0 631.8,522.3 631.0,527.0 C630.2,531.7 630.2,537.3 630.1,542.0 C630.0,546.7 630.2,551.3 630.2,555.0 C630.2,558.7 630.3,562.5 630.3,564.0" fill="none" stroke="#b8300c" stroke-width="14.8" stroke-dasharray="1 2.2" opacity="0.22"/><path d="M886.0,325.5 C885.4,327.6 883.1,333.9 882.2,338.0 C881.3,342.1 880.9,345.0 880.7,350.0 C880.6,355.0 880.8,363.0 881.3,368.0 C881.8,373.0 882.8,376.0 883.7,380.0 C884.7,384.0 886.1,388.0 887.0,392.0 C887.9,396.0 888.8,400.5 888.8,404.0 C888.8,407.5 888.5,410.4 887.0,413.0 C885.5,415.6 883.0,418.1 880.0,419.5 C877.0,420.9 873.5,420.8 869.0,421.5 C864.5,422.2 857.7,422.8 853.0,423.5 C848.3,424.2 843.0,425.4 841.0,425.8" fill="none" stroke="#e2dbcb" stroke-width="16" stroke-linecap="butt"/><path d="M886.0,325.5 C885.4,327.6 883.1,333.9 882.2,338.0 C881.3,342.1 880.9,345.0 880.7,350.0 C880.6,355.0 880.8,363.0 881.3,368.0 C881.8,373.0 882.8,376.0 883.7,380.0 C884.7,384.0 886.1,388.0 887.0,392.0 C887.9,396.0 888.8,400.5 888.8,404.0 C888.8,407.5 888.5,410.4 887.0,413.0 C885.5,415.6 883.0,418.1 880.0,419.5 C877.0,420.9 873.5,420.8 869.0,421.5 C864.5,422.2 857.7,422.8 853.0,423.5 C848.3,424.2 843.0,425.4 841.0,425.8" fill="none" stroke="#f4f0e6" stroke-width="14.1" stroke-linecap="butt"/><path d="M886.0,325.5 C885.4,327.6 883.1,333.9 882.2,338.0 C881.3,342.1 880.9,345.0 880.7,350.0 C880.6,355.0 880.8,363.0 881.3,368.0 C881.8,373.0 882.8,376.0 883.7,380.0 C884.7,384.0 886.1,388.0 887.0,392.0 C887.9,396.0 888.8,400.5 888.8,404.0 C888.8,407.5 888.5,410.4 887.0,413.0 C885.5,415.6 883.0,418.1 880.0,419.5 C877.0,420.9 873.5,420.8 869.0,421.5 C864.5,422.2 857.7,422.8 853.0,423.5 C848.3,424.2 843.0,425.4 841.0,425.8" fill="none" stroke="#fdfcf8" stroke-width="5.6" stroke-linecap="butt" opacity="0.18"/><path d="M886.0,325.5 C885.4,327.6 883.1,333.9 882.2,338.0 C881.3,342.1 880.9,345.0 880.7,350.0 C880.6,355.0 880.8,363.0 881.3,368.0 C881.8,373.0 882.8,376.0 883.7,380.0 C884.7,384.0 886.1,388.0 887.0,392.0 C887.9,396.0 888.8,400.5 888.8,404.0 C888.8,407.5 888.5,410.4 887.0,413.0 C885.5,415.6 883.0,418.1 880.0,419.5 C877.0,420.9 873.5,420.8 869.0,421.5 C864.5,422.2 857.7,422.8 853.0,423.5 C848.3,424.2 843.0,425.4 841.0,425.8" fill="none" stroke="#e2dbcb" stroke-width="14.4" stroke-dasharray="1 2.2" opacity="0.22"/><path d="M842.5,426.5 C840.5,426.9 834.9,427.7 830.8,429.2 C826.7,430.7 822.0,432.9 818.0,435.6 C814.0,438.3 809.9,441.7 806.8,445.2 C803.7,448.7 801.5,452.6 799.6,456.4 C797.7,460.2 796.5,464.1 795.6,468.0 C794.7,471.9 794.2,475.8 794.0,480.0 C793.8,484.2 793.9,488.3 794.4,493.2 C794.9,498.1 795.8,504.0 797.2,509.2 C798.6,514.4 800.8,519.3 802.8,524.4 C804.8,529.5 807.2,534.5 809.2,539.6 C811.2,544.7 813.5,550.6 814.8,555.0 C816.1,559.4 816.9,562.2 817.0,566.0 C817.1,569.8 817.1,574.2 815.5,578.0 C813.9,581.8 810.9,585.6 807.5,588.5 C804.1,591.4 799.6,593.8 795.0,595.5 C790.4,597.2 784.9,598.2 780.0,599.0 C775.1,599.8 772.2,600.0 765.9,600.4 C759.5,600.8 749.9,601.0 741.9,601.3 C733.9,601.6 724.6,601.7 718.0,602.2 C711.4,602.8 706.8,603.3 702.0,604.6 C697.2,605.9 692.7,607.9 689.2,610.0 C685.7,612.1 682.4,616.2 681.0,617.5" fill="none" stroke="#d5780a" stroke-width="16.8" stroke-linecap="butt"/><path d="M842.5,426.5 C840.5,426.9 834.9,427.7 830.8,429.2 C826.7,430.7 822.0,432.9 818.0,435.6 C814.0,438.3 809.9,441.7 806.8,445.2 C803.7,448.7 801.5,452.6 799.6,456.4 C797.7,460.2 796.5,464.1 795.6,468.0 C794.7,471.9 794.2,475.8 794.0,480.0 C793.8,484.2 793.9,488.3 794.4,493.2 C794.9,498.1 795.8,504.0 797.2,509.2 C798.6,514.4 800.8,519.3 802.8,524.4 C804.8,529.5 807.2,534.5 809.2,539.6 C811.2,544.7 813.5,550.6 814.8,555.0 C816.1,559.4 816.9,562.2 817.0,566.0 C817.1,569.8 817.1,574.2 815.5,578.0 C813.9,581.8 810.9,585.6 807.5,588.5 C804.1,591.4 799.6,593.8 795.0,595.5 C790.4,597.2 784.9,598.2 780.0,599.0 C775.1,599.8 772.2,600.0 765.9,600.4 C759.5,600.8 749.9,601.0 741.9,601.3 C733.9,601.6 724.6,601.7 718.0,602.2 C711.4,602.8 706.8,603.3 702.0,604.6 C697.2,605.9 692.7,607.9 689.2,610.0 C685.7,612.1 682.4,616.2 681.0,617.5" fill="none" stroke="url(#yo)" stroke-width="14.8" stroke-linecap="butt"/><path d="M842.5,426.5 C840.5,426.9 834.9,427.7 830.8,429.2 C826.7,430.7 822.0,432.9 818.0,435.6 C814.0,438.3 809.9,441.7 806.8,445.2 C803.7,448.7 801.5,452.6 799.6,456.4 C797.7,460.2 796.5,464.1 795.6,468.0 C794.7,471.9 794.2,475.8 794.0,480.0 C793.8,484.2 793.9,488.3 794.4,493.2 C794.9,498.1 795.8,504.0 797.2,509.2 C798.6,514.4 800.8,519.3 802.8,524.4 C804.8,529.5 807.2,534.5 809.2,539.6 C811.2,544.7 813.5,550.6 814.8,555.0 C816.1,559.4 816.9,562.2 817.0,566.0 C817.1,569.8 817.1,574.2 815.5,578.0 C813.9,581.8 810.9,585.6 807.5,588.5 C804.1,591.4 799.6,593.8 795.0,595.5 C790.4,597.2 784.9,598.2 780.0,599.0 C775.1,599.8 772.2,600.0 765.9,600.4 C759.5,600.8 749.9,601.0 741.9,601.3 C733.9,601.6 724.6,601.7 718.0,602.2 C711.4,602.8 706.8,603.3 702.0,604.6 C697.2,605.9 692.7,607.9 689.2,610.0 C685.7,612.1 682.4,616.2 681.0,617.5" fill="none" stroke="#ffc860" stroke-width="5.9" stroke-linecap="butt" opacity="0.18"/><path d="M842.5,426.5 C840.5,426.9 834.9,427.7 830.8,429.2 C826.7,430.7 822.0,432.9 818.0,435.6 C814.0,438.3 809.9,441.7 806.8,445.2 C803.7,448.7 801.5,452.6 799.6,456.4 C797.7,460.2 796.5,464.1 795.6,468.0 C794.7,471.9 794.2,475.8 794.0,480.0 C793.8,484.2 793.9,488.3 794.4,493.2 C794.9,498.1 795.8,504.0 797.2,509.2 C798.6,514.4 800.8,519.3 802.8,524.4 C804.8,529.5 807.2,534.5 809.2,539.6 C811.2,544.7 813.5,550.6 814.8,555.0 C816.1,559.4 816.9,562.2 817.0,566.0 C817.1,569.8 817.1,574.2 815.5,578.0 C813.9,581.8 810.9,585.6 807.5,588.5 C804.1,591.4 799.6,593.8 795.0,595.5 C790.4,597.2 784.9,598.2 780.0,599.0 C775.1,599.8 772.2,600.0 765.9,600.4 C759.5,600.8 749.9,601.0 741.9,601.3 C733.9,601.6 724.6,601.7 718.0,602.2 C711.4,602.8 706.8,603.3 702.0,604.6 C697.2,605.9 692.7,607.9 689.2,610.0 C685.7,612.1 682.4,616.2 681.0,617.5" fill="none" stroke="#d5780a" stroke-width="15.1" stroke-dasharray="1 2.2" opacity="0.22"/><path d="M582.2,444.0 C580.1,445.6 573.9,462.7 572.5,466.0 C571.1,469.3 564.0,486.5 563.5,488.5 C563.0,490.5 564.7,492.0 566.0,492.5 C567.3,493.0 578.1,494.7 580.5,494.8 C582.9,494.9 595.0,494.7 597.5,494.5 C600.0,494.3 612.7,492.1 614.5,491.5 C616.3,490.9 622.3,489.1 622.0,487.0 C621.7,484.9 612.6,467.2 611.0,464.0 C609.4,460.8 603.1,445.5 600.9,444.0 C598.7,442.5 584.3,442.4 582.2,444.0Z" fill="#f1ebdc" stroke="#e3dac6" stroke-width="0.8"/><path d="M587.7,447.7 L568.0,487.3" stroke="#d6c9ae" stroke-width="1.1" opacity="0.85"/><path d="M588.2,447.8 L571.5,488.1" stroke="#d6c9ae" stroke-width="1.1" opacity="0.85"/><path d="M588.8,448.0 L575.0,488.9" stroke="#d6c9ae" stroke-width="1.1" opacity="0.85"/><path d="M589.4,448.1 L578.5,489.7" stroke="#d6c9ae" stroke-width="1.1" opacity="0.85"/><path d="M589.9,448.2 L582.0,490.3" stroke="#d6c9ae" stroke-width="1.1" opacity="0.85"/><path d="M590.5,448.2 L585.6,490.3" stroke="#d6c9ae" stroke-width="1.1" opacity="0.85"/><path d="M591.1,448.2 L589.2,490.2" stroke="#d6c9ae" stroke-width="1.1" opacity="0.85"/><path d="M591.7,448.2 L592.8,490.2" stroke="#d6c9ae" stroke-width="1.1" opacity="0.85"/><path d="M592.3,448.2 L596.4,490.1" stroke="#d6c9ae" stroke-width="1.1" opacity="0.85"/><path d="M593.1,448.0 L601.4,488.8" stroke="#d6c9ae" stroke-width="1.1" opacity="0.85"/><path d="M594.0,447.7 L606.6,487.2" stroke="#d6c9ae" stroke-width="1.1" opacity="0.85"/><path d="M594.8,447.4 L611.8,485.6" stroke="#d6c9ae" stroke-width="1.1" opacity="0.85"/><path d="M595.7,447.2 L617.0,484.0" stroke="#d6c9ae" stroke-width="1.1" opacity="0.85"/><path d="M582.2,434.4 L600,434.4 L600.9,446 L582.2,446Z" fill="#f3eee2" stroke="#e3dac6" stroke-width="0.8"/><path d="M622.0,573.0 C619.9,574.0 613.3,585.0 612.0,587.0 C610.7,589.0 605.1,597.5 604.5,599.0 C603.9,600.5 603.3,606.1 603.6,607.0 C603.9,607.9 607.1,610.1 608.0,610.5 C608.9,610.9 614.4,611.7 616.0,611.8 C617.6,611.9 628.1,611.9 630.0,611.8 C631.9,611.7 639.8,610.5 641.0,610.0 C642.2,609.5 646.2,606.4 646.5,605.0 C646.8,603.6 646.0,594.4 645.5,592.0 C645.0,589.6 641.6,574.4 639.8,573.0 C638.0,571.6 624.1,572.0 622.0,573.0Z" fill="#f1ebdc" stroke="#e3dac6" stroke-width="0.8"/><path d="M627.2,573.9 L607.5,604.4" stroke="#d6c9ae" stroke-width="1.1" opacity="0.85"/><path d="M627.6,574.1 L610.3,605.4" stroke="#d6c9ae" stroke-width="1.1" opacity="0.85"/><path d="M628.1,574.3 L613.1,606.5" stroke="#d6c9ae" stroke-width="1.1" opacity="0.85"/><path d="M628.5,574.4 L615.8,607.5" stroke="#d6c9ae" stroke-width="1.1" opacity="0.85"/><path d="M629.0,574.5 L618.8,608.0" stroke="#d6c9ae" stroke-width="1.1" opacity="0.85"/><path d="M629.5,574.5 L622.0,608.0" stroke="#d6c9ae" stroke-width="1.1" opacity="0.85"/><path d="M630.1,574.5 L625.2,608.0" stroke="#d6c9ae" stroke-width="1.1" opacity="0.85"/><path d="M630.6,574.5 L628.5,608.0" stroke="#d6c9ae" stroke-width="1.1" opacity="0.85"/><path d="M631.1,574.4 L631.8,607.5" stroke="#d6c9ae" stroke-width="1.1" opacity="0.85"/><path d="M631.7,574.3 L635.3,606.5" stroke="#d6c9ae" stroke-width="1.1" opacity="0.85"/><path d="M632.3,574.1 L638.7,605.4" stroke="#d6c9ae" stroke-width="1.1" opacity="0.85"/><path d="M632.8,573.9 L642.2,604.4" stroke="#d6c9ae" stroke-width="1.1" opacity="0.85"/><path d="M622,562.2 L637.9,562.2 L639.8,574.5 L621.6,574.5Z" fill="#f3eee2" stroke="#e3dac6" stroke-width="0.8"/><path d="M667.9,628.5 C665.6,629.1 657.5,636.6 656.0,638.0 C654.5,639.4 649.4,645.0 648.5,646.5 C647.6,648.0 644.6,656.2 644.5,657.5 C644.4,658.8 645.9,662.9 646.5,663.5 C647.1,664.1 650.5,665.1 652.0,665.3 C653.5,665.5 664.4,666.1 666.5,666.0 C668.6,665.9 678.5,664.9 680.0,664.5 C681.5,664.1 685.9,661.9 686.5,661.0 C687.1,660.1 688.2,653.5 688.3,652.0 C688.4,650.5 687.5,642.6 687.3,641.0 C687.1,639.4 687.5,631.4 686.0,630.5 C684.5,629.6 670.1,627.9 667.9,628.5Z" fill="#f1ebdc" stroke="#e3dac6" stroke-width="0.8"/><path d="M672.6,630.4 L650.0,657.9" stroke="#d6c9ae" stroke-width="1.1" opacity="0.85"/><path d="M673.4,630.6 L655.0,659.2" stroke="#d6c9ae" stroke-width="1.1" opacity="0.85"/><path d="M674.2,630.8 L659.9,660.5" stroke="#d6c9ae" stroke-width="1.1" opacity="0.85"/><path d="M675.0,631.0 L664.9,661.8" stroke="#d6c9ae" stroke-width="1.1" opacity="0.85"/><path d="M675.8,631.0 L669.5,662.0" stroke="#d6c9ae" stroke-width="1.1" opacity="0.85"/><path d="M676.5,630.9 L673.7,661.2" stroke="#d6c9ae" stroke-width="1.1" opacity="0.85"/><path d="M677.2,630.8 L678.0,660.3" stroke="#d6c9ae" stroke-width="1.1" opacity="0.85"/><path d="M677.9,630.6 L682.2,659.5" stroke="#d6c9ae" stroke-width="1.1" opacity="0.85"/><path d="M678.3,630.3 L684.7,657.7" stroke="#d6c9ae" stroke-width="1.1" opacity="0.85"/><path d="M678.4,629.9 L685.4,654.9" stroke="#d6c9ae" stroke-width="1.1" opacity="0.85"/><path d="M678.5,629.4 L686.1,652.1" stroke="#d6c9ae" stroke-width="1.1" opacity="0.85"/><path d="M678.6,629.0 L686.8,649.4" stroke="#d6c9ae" stroke-width="1.1" opacity="0.85"/><path d="M672,618.2 L686.7,623 L686,631.5 L667.9,629.4Z" fill="#f3eee2" stroke="#e3dac6" stroke-width="0.8"/><path d="M798.0,72.0 C797.4,70.6 797.6,63.4 797.6,62.0 C797.6,60.6 797.3,55.4 797.6,54.0 C797.9,52.6 800.3,44.3 801.2,43.2 C802.1,42.1 808.7,39.6 810.2,39.6 C811.7,39.6 819.7,42.4 821.0,43.2 C822.3,44.0 825.9,49.1 827.0,49.8 C828.1,50.5 835.2,52.3 836.0,52.8 C836.8,53.3 838.0,56.2 837.8,57.0 C837.6,57.8 834.3,62.4 833.0,63.6 C831.7,64.8 822.6,72.0 821.0,73.2 C819.4,74.4 813.2,78.6 812.0,79.2 C810.8,79.8 806.0,81.5 805.0,81.0 C804.0,80.5 798.6,73.4 798.0,72.0Z" fill="#f1ebdc" stroke="#e3dac6" stroke-width="0.8"/><path d="M803.3,73.8 L799.7,52.4" stroke="#d6c9ae" stroke-width="1.1" opacity="0.85"/><path d="M803.7,73.3 L802.2,49.0" stroke="#d6c9ae" stroke-width="1.1" opacity="0.85"/><path d="M804.1,72.7 L804.6,45.6" stroke="#d6c9ae" stroke-width="1.1" opacity="0.85"/><path d="M804.7,72.5 L808.1,44.3" stroke="#d6c9ae" stroke-width="1.1" opacity="0.85"/><path d="M805.4,72.6 L812.7,45.0" stroke="#d6c9ae" stroke-width="1.1" opacity="0.85"/><path d="M806.2,72.7 L817.3,45.6" stroke="#d6c9ae" stroke-width="1.1" opacity="0.85"/><path d="M806.9,73.0 L821.9,47.5" stroke="#d6c9ae" stroke-width="1.1" opacity="0.85"/><path d="M807.7,73.5 L826.5,50.5" stroke="#d6c9ae" stroke-width="1.1" opacity="0.85"/><path d="M808.4,74.0 L831.1,53.5" stroke="#d6c9ae" stroke-width="1.1" opacity="0.85"/><path d="M808.8,74.4 L833.4,56.1" stroke="#d6c9ae" stroke-width="1.1" opacity="0.85"/><path d="M808.8,74.8 L833.4,58.2" stroke="#d6c9ae" stroke-width="1.1" opacity="0.85"/><path d="M808.8,75.1 L833.4,60.4" stroke="#d6c9ae" stroke-width="1.1" opacity="0.85"/><path d="M832.7,209.4 L846,201 L848.8,220.6 L838.3,226.9Z" fill="#f3eee2" stroke="#e3dac6" stroke-width="0.8"/><path d="M846.0,201.0 C845.9,199.4 847.3,200.7 848.0,200.3 C848.7,199.9 853.8,196.5 855.0,196.0 C856.2,195.5 861.8,193.7 863.5,193.3 C865.2,192.9 876.7,190.4 878.0,190.5 C879.3,190.6 880.6,193.0 881.0,194.0 C881.4,195.0 882.7,202.4 883.0,204.0 C883.3,205.6 884.4,212.8 884.4,215.0 C884.4,217.2 883.8,231.7 883.0,233.1 C882.2,234.5 875.3,233.4 874.0,233.1 C872.7,232.8 867.0,229.5 866.0,229.0 C865.0,228.5 861.3,226.5 860.0,226.0 C858.7,225.5 849.8,223.9 848.8,222.0 C847.8,220.1 846.1,202.6 846.0,201.0Z" fill="#f1ebdc" stroke="#e3dac6" stroke-width="0.8"/><path d="M849.8,208.4 L864.2,195.0" stroke="#d6c9ae" stroke-width="1.1" opacity="0.85"/><path d="M850.6,208.3 L869.1,194.2" stroke="#d6c9ae" stroke-width="1.1" opacity="0.85"/><path d="M851.4,208.1 L874.0,193.4" stroke="#d6c9ae" stroke-width="1.1" opacity="0.85"/><path d="M851.9,208.6 L877.2,196.4" stroke="#d6c9ae" stroke-width="1.1" opacity="0.85"/><path d="M852.2,209.7 L878.7,202.9" stroke="#d6c9ae" stroke-width="1.1" opacity="0.85"/><path d="M852.4,210.8 L880.3,209.5" stroke="#d6c9ae" stroke-width="1.1" opacity="0.85"/><path d="M852.5,211.8 L880.9,215.8" stroke="#d6c9ae" stroke-width="1.1" opacity="0.85"/><path d="M852.5,212.7 L880.6,221.6" stroke="#d6c9ae" stroke-width="1.1" opacity="0.85"/><path d="M852.4,213.7 L880.3,227.4" stroke="#d6c9ae" stroke-width="1.1" opacity="0.85"/><path d="M852.0,214.1 L877.8,230.0" stroke="#d6c9ae" stroke-width="1.1" opacity="0.85"/><path d="M851.3,214.0 L873.2,229.4" stroke="#d6c9ae" stroke-width="1.1" opacity="0.85"/><path d="M850.5,213.9 L868.6,228.8" stroke="#d6c9ae" stroke-width="1.1" opacity="0.85"/><path d="M880.0,328.0 C879.6,327.2 880.5,322.4 880.6,321.0 C880.8,319.6 881.7,311.4 882.0,310.0 C882.3,308.6 884.3,304.1 884.8,303.0 C885.3,301.9 888.1,296.3 889.0,295.8 C889.9,295.3 895.4,295.4 896.8,295.8 C898.1,296.2 905.7,300.8 907.0,301.8 C908.3,302.8 913.5,308.1 914.2,309.0 C914.9,309.9 916.2,312.9 916.0,313.8 C915.8,314.7 912.9,320.1 911.8,321.0 C910.7,321.9 902.4,325.1 901.0,325.8 C899.6,326.5 894.3,329.6 893.2,330.0 C892.1,330.4 887.0,331.1 886.0,331.0 C885.0,330.9 880.4,328.8 880.0,328.0Z" fill="#f1ebdc" stroke="#e3dac6" stroke-width="0.8"/><path d="M885.6,325.7 L883.6,308.9" stroke="#d6c9ae" stroke-width="1.1" opacity="0.85"/><path d="M886.0,324.9 L886.2,303.8" stroke="#d6c9ae" stroke-width="1.1" opacity="0.85"/><path d="M886.5,324.1 L888.8,298.6" stroke="#d6c9ae" stroke-width="1.1" opacity="0.85"/><path d="M887.3,324.2 L893.9,299.7" stroke="#d6c9ae" stroke-width="1.1" opacity="0.85"/><path d="M888.1,324.4 L899.1,300.8" stroke="#d6c9ae" stroke-width="1.1" opacity="0.85"/><path d="M888.9,324.8 L903.7,303.4" stroke="#d6c9ae" stroke-width="1.1" opacity="0.85"/><path d="M889.5,325.5 L907.7,307.5" stroke="#d6c9ae" stroke-width="1.1" opacity="0.85"/><path d="M890.2,326.1 L911.8,311.5" stroke="#d6c9ae" stroke-width="1.1" opacity="0.85"/><path d="M890.1,326.8 L911.0,315.6" stroke="#d6c9ae" stroke-width="1.1" opacity="0.85"/><path d="M890.0,327.5 L910.3,319.6" stroke="#d6c9ae" stroke-width="1.1" opacity="0.85"/></svg>
<div class="t" style="left:33px;top:38.5px;font-size:61.7px;letter-spacing:2.1px;">Soft and gum-friendly</div>
<div class="t" style="left:32.3px;top:124.4px;font-size:26px;letter-spacing:0.94px;">Teething and teeth cleaning also require gentle care</div>
<div class="t" style="left:33px;top:418.6px;font-size:33.4px;letter-spacing:1.27px;">Resistant to Biting and</div>
<div class="t" style="left:34px;top:456.5px;font-size:33.4px;letter-spacing:1.06px;">Scratching</div>
<div class="t" style="left:33px;top:494.6px;font-size:33.4px;letter-spacing:1.03px;">Does Not Hurt the Gums</div>
<div class="t" style="left:506.8px;top:741px;font-size:72.5px;letter-spacing:2.83px;">Hand-Wound</div>
<div class="t" style="left:380.5px;top:820.5px;font-size:72.5px;letter-spacing:1.06px;">No Internal Wires</div>
<div class="t" style="left:520.8px;top:936.5px;font-size:26px;letter-spacing:0.76px;">Cat’s play needs security protection</div>
</body></html>
